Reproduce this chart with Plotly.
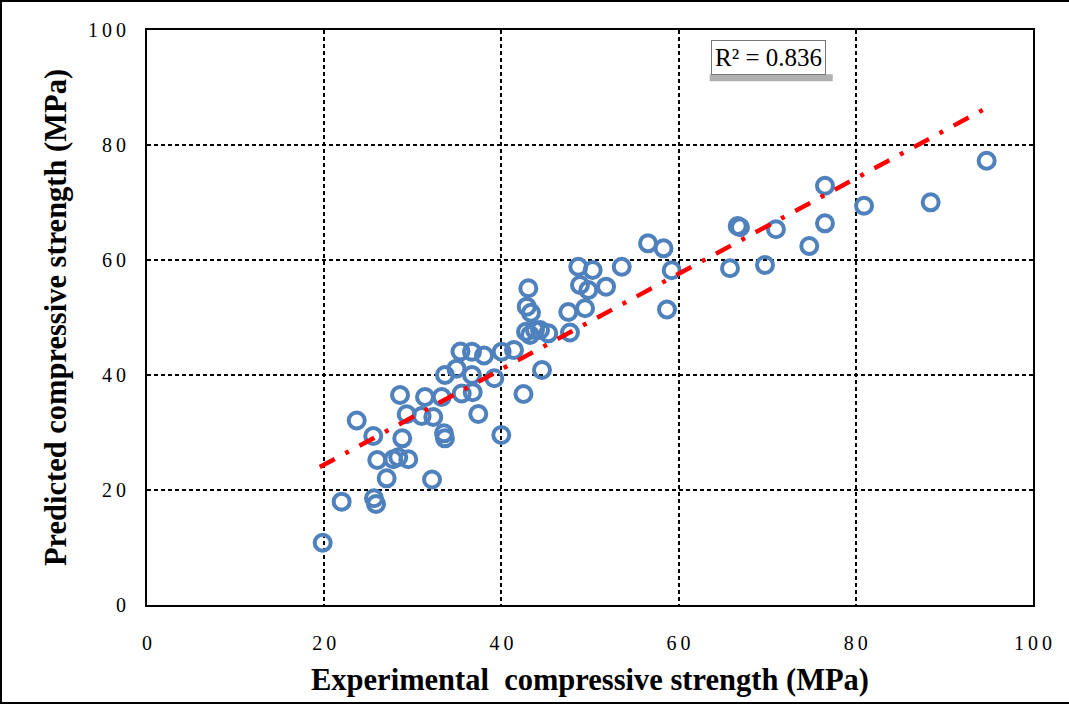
import plotly.graph_objects as go

# Experimental vs. predicted compressive strength (MPa)
experimental = [
    19.83, 21.97, 25.62, 25.85, 23.67, 25.54, 25.99, 27.05, 27.80, 28.36,
    29.49, 28.81, 28.56, 29.31, 32.17, 31.38, 33.26, 31.00, 32.31, 33.52,
    33.63, 37.39, 39.99, 35.52, 36.76, 42.49, 33.63, 34.93, 36.68, 39.20,
    44.58, 35.38, 36.68, 38.04, 40.03, 41.42, 43.04, 42.86, 43.34, 42.78,
    43.79, 44.36, 45.29, 43.23, 47.74, 47.55, 49.44, 48.87, 49.81, 48.68,
    50.30, 51.81, 53.58, 56.55, 58.30, 59.22, 58.69, 65.80, 69.75, 66.67,
    66.93, 70.99, 74.75, 76.52, 76.52, 80.93, 88.45, 94.77,
]
predicted = [
    10.83, 17.97, 18.56, 17.57, 32.09, 29.39, 25.22, 22.03, 25.34, 25.69,
    25.34, 28.99, 36.52, 33.17, 21.83, 36.17, 36.17, 32.87, 32.70, 29.86,
    28.99, 33.22, 29.57, 36.78, 37.01, 36.70, 40.00, 41.10, 40.00, 39.43,
    40.87, 44.09, 44.05, 43.39, 44.05, 44.35, 55.08, 51.88, 50.83, 47.53,
    47.83, 47.83, 47.25, 46.96, 47.39, 50.96, 51.60, 55.65, 54.78, 58.83,
    58.26, 55.36, 58.83, 62.90, 62.03, 58.21, 51.39, 58.56, 59.13, 65.91,
    65.69, 65.34, 62.43, 72.92, 66.38, 69.44, 70.03, 77.27,
]

# Linear trend line
trend_x = [19.5, 94.5]
trend_slope = 0.83
trend_intercept = 7.8
trend_y = [trend_slope * x + trend_intercept for x in trend_x]

r2_text = "R² = 0.836"
tick_vals = [0, 20, 40, 60, 80, 100]
# tick labels are set with thin spaces between the digits
tick_text = ["\u2009".join(str(v)) for v in tick_vals]

serif = "Liberation Serif, Times New Roman, serif"

fig = go.Figure()

fig.add_trace(go.Scatter(
    x=experimental, y=predicted, mode="markers",
    marker=dict(symbol="circle-open", size=16, color="#4F81BD",
                line=dict(width=4, color="#4F81BD")),
    showlegend=False, hoverinfo="x+y",
))

fig.add_trace(go.Scatter(
    x=trend_x, y=trend_y, mode="lines",
    line=dict(color="#FF0000", width=4.5, dash="17px,12px,4px,12px"),
    showlegend=False, hoverinfo="skip",
))

axis_common = dict(
    range=[0, 100], tickvals=tick_vals, ticktext=tick_text, showgrid=True,
    gridcolor="black", gridwidth=1.7, griddash="4px,3px",
    showline=True, linecolor="black", linewidth=2, mirror=True,
    zeroline=False, ticks="", tickfont=dict(family=serif, size=20, color="black"),
)

fig.update_xaxes(
    **axis_common, ticklabelstandoff=19,
    title=dict(text="<b>Experimental\u00a0 compressive strength (MPa)</b>",
               font=dict(family=serif, size=30.5, color="black"), standoff=16),
)
fig.update_yaxes(
    **axis_common, ticklabelstandoff=15,
    title=dict(text="<b>Predicted compressive strength (MPa)</b>",
               font=dict(family=serif, size=30.5, color="black"), standoff=12),
)

# R² label with a shadow strip underneath
fig.add_shape(type="rect", xref="x", yref="y", x0=63.5, x1=77.4, y0=91.1, y1=92.3,
              fillcolor="#B0B0B0", line=dict(width=0), layer="above")
fig.add_annotation(
    x=70.2, y=95.3, xref="x", yref="y", text=r2_text, showarrow=False,
    font=dict(family=serif, size=25, color="black"),
    bgcolor="white", bordercolor="#777777", borderwidth=1, borderpad=3,
)

# outer frame around the whole chart area
fig.add_shape(type="rect", xref="paper", yref="paper",
              x0=-0.1648, x1=1.05, y0=-0.1704, y1=1.0504,
              line=dict(color="black", width=2), fillcolor="rgba(0,0,0,0)")

fig.update_layout(
    width=1069, height=705,
    margin=dict(l=147, r=36, t=30, b=100),
    paper_bgcolor="white", plot_bgcolor="white",
)

fig.write_html("out.html")
